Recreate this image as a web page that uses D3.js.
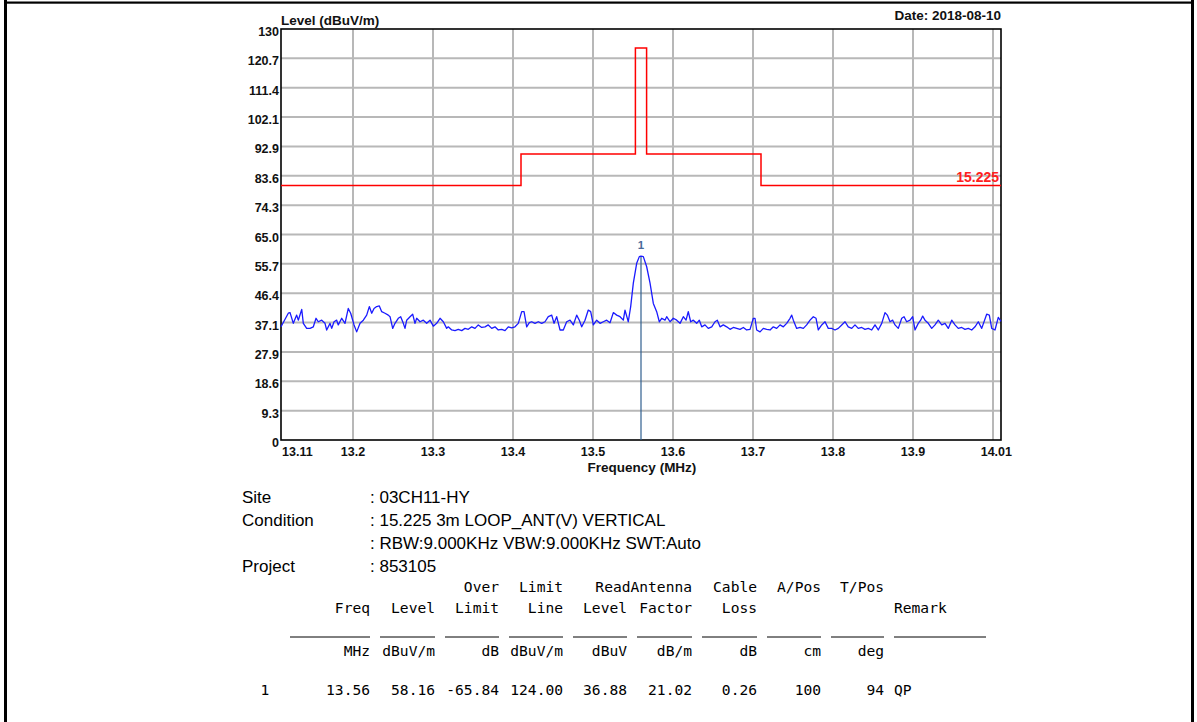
<!DOCTYPE html>
<html>
<head>
<meta charset="utf-8">
<script src="https://cdn.jsdelivr.net/npm/d3@7"></script>
<style>
  html, body { margin: 0; padding: 0; background: #fff; }
  svg { display: block; }
</style>
</head>
<body>
<svg id="chart" width="1197" height="722"></svg>
<script>
// Sweep range and level axis
const freqDomain = [13.11, 14.01];
const levelMax = 130;
const yTickLabels = ["0","9.3","18.6","27.9","37.1","46.4","55.7","65.0","74.3","83.6","92.9","102.1","111.4","120.7","130"];
const xGridFreqs = [13.2, 13.3, 13.4, 13.5, 13.6, 13.7, 13.8, 13.9, 14.0];
const xTickLabels = ["13.2","13.3","13.4","13.5","13.6","13.7","13.8","13.9"];

// FCC 15.225 limit mask (dBuV/m at 3 m)
const limitFreqs  = [13.11, 13.41, 13.553, 13.567, 13.71, 14.01];
const limitLevels = [80.5, 90.5, 124.0, 90.5, 80.5, 80.5];

// Measured spectrum (MHz, dBuV/m)
const traceFreqs = [
13.1100,13.1191,13.1213,13.1254,13.1296,13.1316,13.1359,13.1379,13.1421,13.1463,
13.1504,13.1538,13.1566,13.1609,13.1650,13.1671,13.1713,13.1734,13.1763,13.1796,
13.1816,13.1859,13.1900,13.1941,13.1971,13.2013,13.2046,13.2088,13.2129,13.2171,
13.2204,13.2234,13.2263,13.2296,13.2329,13.2359,13.2400,13.2441,13.2463,13.2496,
13.2525,13.2566,13.2596,13.2629,13.2650,13.2671,13.2713,13.2746,13.2775,13.2796,
13.2838,13.2879,13.2921,13.2963,13.3004,13.3046,13.3088,13.3129,13.3171,13.3191,
13.3234,13.3275,13.3316,13.3359,13.3400,13.3441,13.3484,13.3525,13.3566,13.3609,
13.3650,13.3691,13.3734,13.3775,13.3816,13.3859,13.3900,13.3941,13.3984,13.4025,
13.4066,13.4109,13.4138,13.4171,13.4204,13.4234,13.4275,13.4316,13.4359,13.4400,
13.4441,13.4484,13.4513,13.4546,13.4588,13.4629,13.4671,13.4713,13.4754,13.4796,
13.4829,13.4859,13.4900,13.4941,13.4971,13.5004,13.5046,13.5088,13.5129,13.5171,
13.5213,13.5254,13.5296,13.5338,13.5379,13.5400,13.5441,13.5471,13.5504,13.5546,
13.5579,13.5600,13.5629,13.5671,13.5713,13.5754,13.5796,13.5829,13.5859,13.5900,
13.5921,13.5963,13.6004,13.6046,13.6088,13.6129,13.6163,13.6191,13.6221,13.6254,
13.6296,13.6329,13.6359,13.6400,13.6441,13.6484,13.6525,13.6554,13.6588,13.6629,
13.6671,13.6713,13.6754,13.6796,13.6838,13.6879,13.6921,13.6963,13.7004,13.7025,
13.7046,13.7088,13.7129,13.7171,13.7213,13.7254,13.7296,13.7338,13.7379,13.7421,
13.7463,13.7484,13.7504,13.7546,13.7588,13.7629,13.7671,13.7713,13.7754,13.7788,
13.7816,13.7859,13.7900,13.7941,13.7984,13.8025,13.8066,13.8109,13.8150,13.8191,
13.8234,13.8275,13.8316,13.8359,13.8400,13.8441,13.8484,13.8525,13.8566,13.8609,
13.8650,13.8679,13.8713,13.8746,13.8775,13.8816,13.8859,13.8888,13.8921,13.8963,
13.8996,13.9025,13.9066,13.9096,13.9121,13.9150,13.9191,13.9234,13.9275,13.9316,
13.9359,13.9400,13.9441,13.9484,13.9525,13.9566,13.9609,13.9650,13.9691,13.9734,
13.9775,13.9816,13.9859,13.9921,13.9954,13.9984,14.0025,14.0066,14.0100
];
const traceLevels = [
35.8,40.1,40.3,36.9,39.5,37.9,41.3,36.9,35.3,35.3,
35.8,38.5,37.4,37.9,36.9,34.8,36.9,35.3,37.4,37.9,
36.4,38.5,36.9,41.6,40.1,36.4,34.2,36.9,37.9,39.5,
42.2,40.1,41.6,42.2,42.4,40.6,40.1,39.5,39.0,35.3,
36.9,38.5,39.0,36.9,35.3,37.9,39.0,39.8,36.9,38.5,
37.4,37.9,36.9,37.9,36.0,36.9,38.5,37.4,35.3,35.8,
34.8,34.6,35.0,34.6,35.3,35.0,35.8,35.3,36.4,35.6,
35.8,36.4,35.3,35.8,34.8,35.0,34.6,35.8,35.5,35.8,
36.9,40.6,40.6,35.8,37.1,37.4,36.9,37.4,36.9,37.4,
39.0,39.5,36.9,39.0,34.8,34.8,37.4,37.9,36.4,39.5,
37.9,35.8,37.9,41.1,40.6,36.4,37.9,36.9,37.4,37.9,
37.1,40.3,39.5,39.0,37.9,41.1,37.4,42.2,49.6,55.9,
58.0,58.16,58.0,54.8,49.6,43.2,40.6,37.4,38.5,37.9,
39.0,37.4,38.5,37.9,36.9,39.0,37.9,40.6,37.4,37.9,
36.9,37.9,35.8,36.4,35.3,35.8,37.4,37.9,35.8,36.4,
35.8,35.0,35.6,35.3,35.0,35.6,34.8,35.0,38.5,38.5,
34.8,34.2,35.3,35.0,34.8,35.8,35.3,36.4,35.8,36.9,
38.5,39.5,37.9,35.3,35.6,35.3,36.4,37.9,39.0,38.5,
34.8,36.4,37.4,35.3,35.3,34.8,35.3,36.4,37.4,35.8,
35.3,36.4,35.3,35.6,35.0,35.3,34.8,36.4,34.8,36.9,
40.3,39.5,37.4,37.9,36.4,35.3,38.5,39.0,37.4,37.9,
39.0,34.8,36.9,37.9,39.2,37.9,36.9,35.3,36.4,37.9,
36.4,36.9,35.3,37.9,36.4,35.3,35.6,35.0,35.3,34.8,
35.8,37.4,35.3,39.8,39.5,35.3,34.8,38.8,37.5
];

// Marker 1
const markerFreq = 13.56;
const markerLevel = 58.16;
const markerLabel = "1";

// Report text
const infoLabels = ["Site", "Condition", "", "Project"];
const infoValues = [": 03CH11-HY", ": 15.225 3m LOOP_ANT(V) VERTICAL", ": RBW:9.000KHz VBW:9.000KHz SWT:Auto", ": 853105"];
const headRow1 = ["", "", "Over", "Limit", "", "ReadAntenna", "Cable", "A/Pos", "T/Pos"];
const headRow2 = ["Freq", "Level", "Limit", "Line", "Level", "Factor", "Loss", "", ""];
const unitRow  = ["MHz", "dBuV/m", "dB", "dBuV/m", "dBuV", "dB/m", "dB", "cm", "deg"];
const dataRow  = ["13.56", "58.16", "-65.84", "124.00", "36.88", "21.02", "0.26", "100", "94"];
const rowIndex = "1";
const remarkHead = "Remark";
const remarkValue = "QP";

const svg = d3.select("#chart");
const W = 1197, H = 722;
const plot = { left: 281, right: 1001, top: 29, bottom: 440 };

svg.append("rect").attr("width", W).attr("height", H).attr("fill", "#fff");

// Page frame
svg.append("rect").attr("x", 4).attr("y", -10).attr("width", 3).attr("height", H + 20).attr("fill", "#000");
svg.append("rect").attr("x", 1191).attr("y", -10).attr("width", 3).attr("height", H + 20).attr("fill", "#000");
svg.append("rect").attr("x", 4).attr("y", 1.5).attr("width", 1190).attr("height", 2.2).attr("fill", "#000");

const x = d3.scaleLinear().domain(freqDomain).range([plot.left, plot.right]);
const y = d3.scaleLinear().domain([0, levelMax]).range([plot.bottom, plot.top]);
const yTicks = yTickLabels.map((_, i) => i * levelMax / (yTickLabels.length - 1));

const tickFont = "'Liberation Sans', Arial, sans-serif";

// Grid
const grid = svg.append("g").attr("stroke", "#b8b8b8").attr("stroke-width", 2);
grid.selectAll("line.h").data(yTicks.slice(1, -1)).join("line")
  .attr("x1", plot.left).attr("x2", plot.right)
  .attr("y1", d => y(d)).attr("y2", d => y(d));
grid.selectAll("line.v").data(xGridFreqs).join("line")
  .attr("x1", d => x(d)).attr("x2", d => x(d))
  .attr("y1", plot.top).attr("y2", plot.bottom);

// Plot frame
svg.append("rect")
  .attr("x", plot.left).attr("y", plot.top)
  .attr("width", plot.right - plot.left).attr("height", plot.bottom - plot.top)
  .attr("fill", "none").attr("stroke", "#000").attr("stroke-width", 1.6);

// Y axis labels
svg.append("g").selectAll("text").data(yTicks).join("text")
  .attr("x", plot.left - 2)
  .attr("y", d => y(d) + 7)
  .attr("text-anchor", "end")
  .attr("font-family", tickFont).attr("font-weight", "bold").attr("font-size", 12.5)
  .attr("fill", "#111")
  .text((d, i) => yTickLabels[i]);

// X axis labels
const xLab = svg.append("g")
  .attr("font-family", tickFont).attr("font-weight", "bold").attr("font-size", 12.5).attr("fill", "#111");
xLab.selectAll("text.mid").data(xTickLabels).join("text")
  .attr("x", d => x(+d)).attr("y", plot.bottom + 16)
  .attr("text-anchor", "middle").text(d => d);
xLab.append("text").attr("x", x(freqDomain[0]) + 1).attr("y", plot.bottom + 16)
  .attr("text-anchor", "start").text(freqDomain[0].toFixed(2));
xLab.append("text").attr("x", x(freqDomain[1]) + 11).attr("y", plot.bottom + 16)
  .attr("text-anchor", "end").text(freqDomain[1].toFixed(2));

// Titles
svg.append("text").attr("x", plot.left).attr("y", 25)
  .attr("font-family", tickFont).attr("font-weight", "bold").attr("font-size", 13.5).attr("fill", "#111")
  .text("Level (dBuV/m)");
svg.append("text").attr("x", plot.right).attr("y", 20).attr("text-anchor", "end")
  .attr("font-family", tickFont).attr("font-weight", "bold").attr("font-size", 13.5).attr("fill", "#111")
  .text("Date: 2018-08-10");
svg.append("text").attr("x", (plot.left + plot.right) / 2 + 1).attr("y", 472).attr("text-anchor", "middle")
  .attr("font-family", tickFont).attr("font-weight", "bold").attr("font-size", 13.5).attr("fill", "#111")
  .text("Frequency (MHz)");

// Limit line
const limitPts = limitFreqs.map((f, i) => [f, limitLevels[i]]);
svg.append("path")
  .datum(limitPts)
  .attr("d", d3.line().x(d => x(d[0])).y(d => y(d[1])).curve(d3.curveStepAfter))
  .attr("fill", "none").attr("stroke", "#ff0000").attr("stroke-width", 1.5);
svg.append("text").attr("x", plot.right - 2).attr("y", y(limitLevels[limitLevels.length - 1]) - 3)
  .attr("text-anchor", "end")
  .attr("font-family", tickFont).attr("font-weight", "bold").attr("font-size", 14).attr("fill", "#ff2020")
  .text("15.225");

// Marker line
svg.append("line")
  .attr("x1", x(markerFreq)).attr("x2", x(markerFreq))
  .attr("y1", y(markerLevel)).attr("y2", plot.bottom)
  .attr("stroke", "#2f5f8f").attr("stroke-width", 1.2);

// Trace
const tracePts = traceFreqs.map((f, i) => [f, traceLevels[i]]);
svg.append("path")
  .datum(tracePts)
  .attr("d", d3.line().x(d => x(d[0])).y(d => y(d[1])))
  .attr("fill", "none").attr("stroke", "#1a1aff").attr("stroke-width", 1.3)
  .attr("stroke-linejoin", "round");

svg.append("text").attr("x", x(markerFreq)).attr("y", y(markerLevel) - 7)
  .attr("text-anchor", "middle")
  .attr("font-family", tickFont).attr("font-weight", "bold").attr("font-size", 11.5).attr("fill", "#4a6a9a")
  .text(markerLabel);

// Report info block
const infoFont = "'Liberation Sans', Arial, sans-serif";
const info = svg.append("g").attr("font-family", infoFont).attr("font-size", 17).attr("fill", "#000");
infoLabels.forEach((t, i) => {
  info.append("text").attr("x", 242).attr("y", 503 + i * 23).text(t);
  info.append("text").attr("x", 370).attr("y", 503 + i * 23).text(infoValues[i]);
});

// Result table
const colRight = [370, 435, 499, 563, 627, 692, 757, 821, 884];
const ruleStart = [290, 380, 445, 509, 573, 637, 702, 767, 831];
const remarkX = 894;
const mono = "'DejaVu Sans Mono', 'Liberation Mono', monospace";
const tbl = svg.append("g").attr("font-family", mono).attr("font-size", 14.6).attr("fill", "#000");
function row(vals, yy) {
  tbl.append("g").selectAll("text").data(vals).join("text")
    .attr("x", (d, i) => colRight[i]).attr("y", yy).attr("text-anchor", "end")
    .attr("xml:space", "preserve").text(d => d);
}
row(headRow1, 592);
row(headRow2, 613);
row(unitRow, 656);
row(dataRow, 695);
tbl.append("text").attr("x", remarkX).attr("y", 613).text(remarkHead);
tbl.append("text").attr("x", remarkX).attr("y", 695).text(remarkValue);
tbl.append("text").attr("x", 265).attr("y", 695).attr("text-anchor", "middle").text(rowIndex);
tbl.append("g").selectAll("line").data(ruleStart).join("line")
  .attr("x1", d => d).attr("x2", (d, i) => colRight[i])
  .attr("y1", 637).attr("y2", 637).attr("stroke", "#000").attr("stroke-width", 1);
tbl.append("line").attr("x1", remarkX).attr("x2", 986).attr("y1", 637).attr("y2", 637)
  .attr("stroke", "#000").attr("stroke-width", 1);
</script>
</body>
</html>
